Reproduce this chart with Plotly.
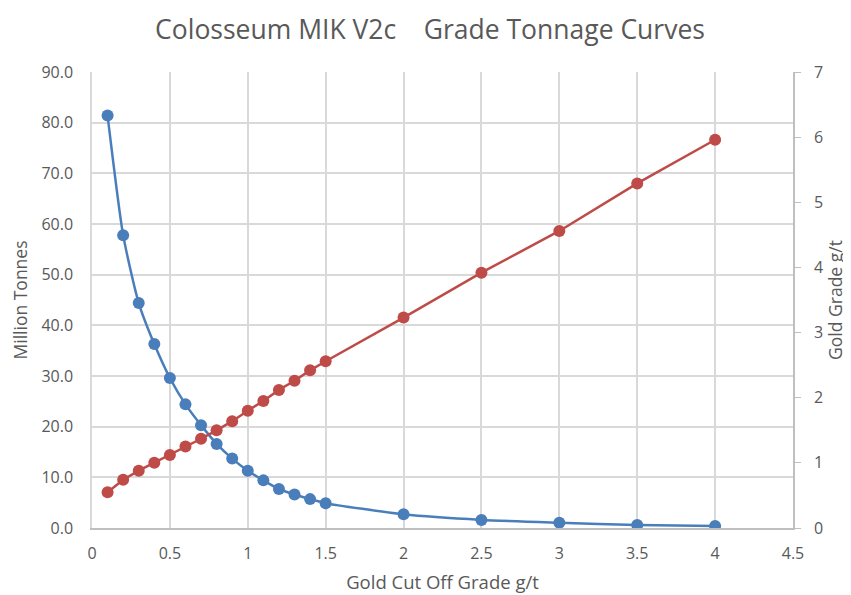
import plotly.graph_objects as go

cutoff = [0.1, 0.2, 0.3, 0.4, 0.5, 0.6, 0.7, 0.8, 0.9, 1.0, 1.1, 1.2, 1.3, 1.4, 1.5, 2.0, 2.5, 3.0, 3.5, 4.0]
tonnes = [81.4, 57.8, 44.4, 36.3, 29.6, 24.4, 20.3, 16.6, 13.7, 11.3, 9.4, 7.7, 6.6, 5.7, 4.9, 2.7, 1.6, 1.05, 0.6, 0.4]
grade = [0.55, 0.74, 0.88, 1.0, 1.12, 1.25, 1.37, 1.5, 1.64, 1.80, 1.95, 2.12, 2.26, 2.42, 2.56, 3.23, 3.92, 4.56, 5.29, 5.96]

x_ticks = [0, 0.5, 1, 1.5, 2, 2.5, 3, 3.5, 4, 4.5]
x_labels = ["0", "0.5", "1", "1.5", "2", "2.5", "3", "3.5", "4", "4.5"]
y_ticks = [0, 10, 20, 30, 40, 50, 60, 70, 80, 90]
y_labels = ["0.0", "10.0", "20.0", "30.0", "40.0", "50.0", "60.0", "70.0", "80.0", "90.0"]
y2_ticks = [0, 1, 2, 3, 4, 5, 6, 7]

FONT = "Open Sans"
GRAY = "#595959"
GRID = "#d9d9d9"

fig = go.Figure()
fig.add_trace(go.Scatter(
    x=cutoff, y=tonnes, mode="lines+markers", name="Million Tonnes",
    line=dict(color="#4a7ebb", width=2.5, shape="spline", smoothing=0.6),
    marker=dict(color="#4a7ebb", size=12),
    yaxis="y"))
fig.add_trace(go.Scatter(
    x=cutoff, y=grade, mode="lines+markers", name="Gold Grade g/t",
    line=dict(color="#be4b48", width=2.5),
    marker=dict(color="#be4b48", size=12),
    yaxis="y2"))

fig.update_layout(
    width=851, height=595,
    margin=dict(l=84, r=66, t=64, b=75, autoexpand=False),
    paper_bgcolor="white", plot_bgcolor="white",
    showlegend=False,
    font=dict(family=FONT, color=GRAY, size=16),
    title=dict(text="Colosseum MIK V2c\u00a0\u00a0\u00a0\u00a0Grade Tonnage Curves",
               x=422 / 851, xanchor="center", xref="container", y=1 - 22 / 595, yref="container", yanchor="middle",
               font=dict(family=FONT, size=26.5, color=GRAY)),
    xaxis=dict(range=[0, 4.5], tickvals=x_ticks, ticktext=x_labels,
               showgrid=True, gridcolor=GRID, gridwidth=1.5,
               showline=True, linecolor="#bfbfbf", linewidth=1.5,
               ticks="", zeroline=False, ticklabelstandoff=10,
               tickfont=dict(size=16),
               title=dict(text="Gold Cut Off Grade g/t", font=dict(size=18.5, color=GRAY), standoff=13)),
    yaxis=dict(range=[0, 90], tickvals=y_ticks, ticktext=y_labels,
               showgrid=True, gridcolor=GRID, gridwidth=1.5,
               showline=True, linecolor=GRID, linewidth=1.5,
               zeroline=False, ticks="", ticklabelstandoff=14,
               tickfont=dict(size=16),
               title=dict(text="Million Tonnes", font=dict(size=17.5, color=GRAY), standoff=10)),
    yaxis2=dict(range=[0, 7], tickvals=y2_ticks,
                overlaying="y", side="right", showgrid=False,
                showline=True, linecolor="#bfbfbf", linewidth=1.5,
                ticks="outside", ticklen=6, tickcolor="#bfbfbf",
                zeroline=False, ticklabelstandoff=10,
                tickfont=dict(size=16),
                title=dict(text="Gold Grade g/t", font=dict(size=17.5, color=GRAY), standoff=6)),
)

fig.write_html("out.html")
